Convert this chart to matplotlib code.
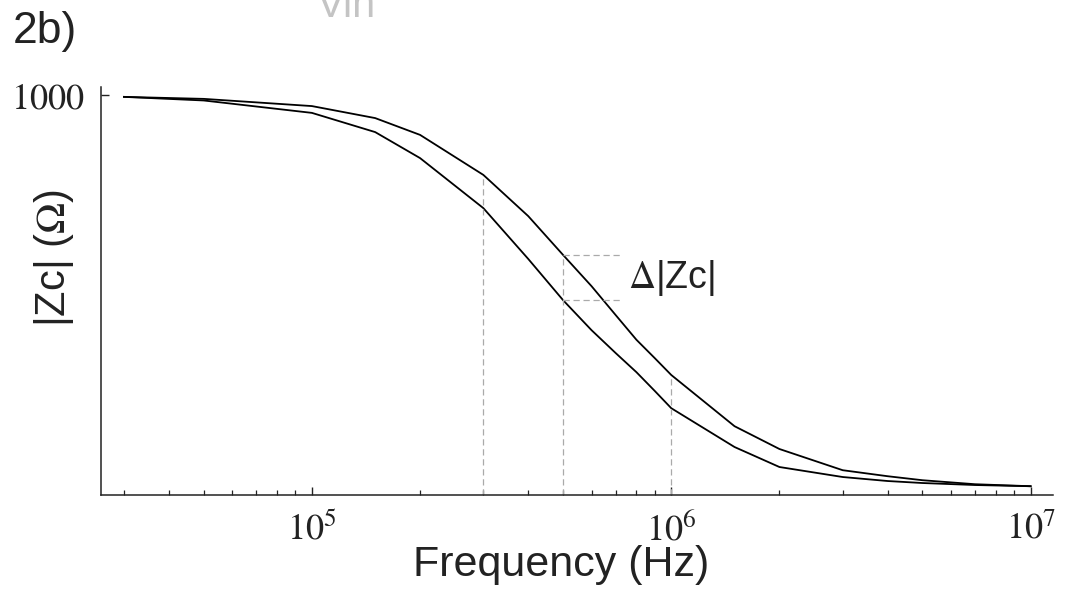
import numpy as np
import matplotlib
matplotlib.use("Agg")
import matplotlib.pyplot as plt

plt.rcParams['mathtext.fontset'] = 'stix'

# frequency nodes (Hz) and |Zc| of the two curves
freq = [3e4, 5e4, 1e5, 1.5e5, 2e5, 3e5, 4e5, 5e5, 6e5, 7e5, 8e5, 9e5,
        1e6, 1.5e6, 2e6, 3e6, 4e6, 5e6, 7e6, 1e7]
zc_upper = [995, 990, 972, 942, 900, 800, 697, 600, 522, 450, 388, 342,
            300, 172, 115, 62, 47, 37, 27, 22]
zc_lower = [995, 986, 955, 907, 842, 717, 590, 487, 412, 355, 307, 260,
            217, 120, 70, 45, 35, 30, 25, 22]

# guide lines
vline_freq = [3e5, 5e5, 1e6]
delta_freq = 5e5
delta_end = 7.3e5

xticks = [1e5, 1e6, 1e7]
xtick_labels = [r'$10^{5}$', r'$10^{6}$', r'$10^{7}$']

fig = plt.figure(figsize=(10.75, 6.02), dpi=100)
ax = fig.add_axes([0.094, 0.1777, 0.8855, 0.678])

ax.plot(freq, zc_upper, color='black', lw=1.3)
ax.plot(freq, zc_lower, color='black', lw=1.3)

ax.set_xscale('log')
ax.set_xlim(2.59e4, 1.154e7)
ax.set_ylim(0, 1020)

# dashed guides
dash_kw = dict(color='#aaaaaa', lw=0.9, linestyles=(0, (5, 3)))
vtops = [zc_upper[freq.index(f)] for f in vline_freq]
ax.vlines(vline_freq, 0, vtops, **dash_kw)
i5 = freq.index(delta_freq)
ax.hlines([zc_upper[i5], zc_lower[i5]], delta_freq, delta_end, **dash_kw)
ax.text(7.6e5, (zc_upper[i5] + zc_lower[i5]) / 2, r'$\Delta$|Zc|',
        fontsize=27, family='Liberation Sans', ha='left', va='center',
        color='#222222')

# axes styling
for s in ['top', 'right']:
    ax.spines[s].set_visible(False)
for s in ['left', 'bottom']:
    ax.spines[s].set_linewidth(1.1)
    ax.spines[s].set_color('#222222')

ax.set_xticks(xticks)
ax.set_xticklabels(xtick_labels, fontsize=26)
ax.set_yticks([1000])
ax.set_yticklabels([r'$1000$'], fontsize=26)
ax.tick_params(axis='both', which='major', direction='in', length=6, width=1, pad=12, colors='#222222')
ax.tick_params(axis='x', which='minor', direction='in', length=3.5, width=0.9, colors='#222222')
ax.tick_params(axis='y', which='minor', left=False)

fig.text(561 / 1075, 1 - 576 / 602, 'Frequency (Hz)', fontsize=31,
         family='Liberation Sans', ha='center', va='baseline', color='#222222')
fig.text(54 / 1075, 1 - 258 / 602, r'|Zc| ($\Omega$)', fontsize=30,
         family='Liberation Sans', ha='center', va='center', rotation=90,
         color='#222222')
fig.text(13 / 1075, 1 - 43 / 602, '2b)', fontsize=32, family='Liberation Sans',
         ha='left', va='baseline', color='#222222')
fig.text(317 / 1075, 1 - 17 / 602, 'Vin', fontsize=30, family='Liberation Sans',
         ha='left', va='baseline', color='#c4c4c4')

fig.savefig('out.png', dpi=100)
